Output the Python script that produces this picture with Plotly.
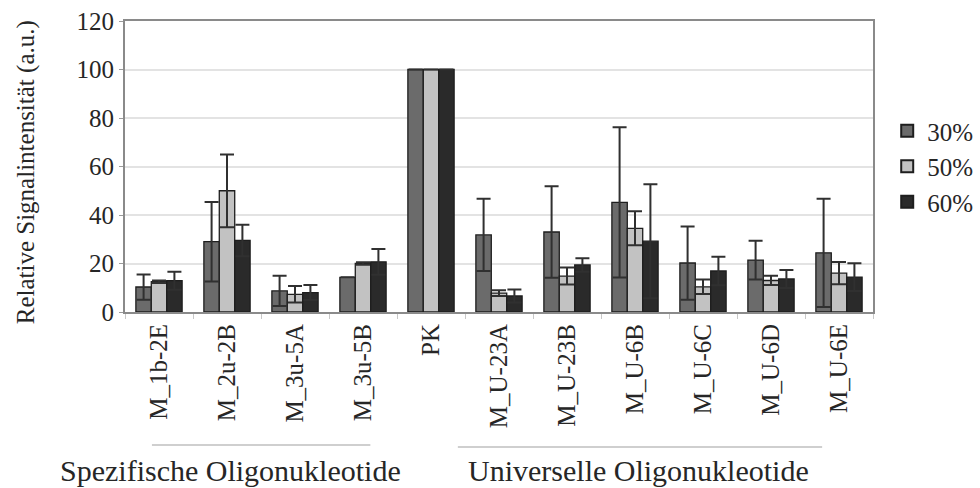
import plotly.graph_objects as go

# Oligonucleotide probes and relative signal intensity per formamide concentration
categories = ["M_1b-2E", "M_2u-2B", "M_3u-5A", "M_3u-5B", "PK",
              "M_U-23A", "M_U-23B", "M_U-6B", "M_U-6C", "M_U-6D", "M_U-6E"]
series_names = ["30%", "50%", "60%"]
v30 = [10.3, 29.0, 8.7, 14.3, 100, 31.8, 33.0, 45.2, 20.2, 21.4, 24.4]
e30 = [5.2, 16.4, 6.2, 0, 0, 14.9, 18.9, 31.0, 15.1, 8.0, 22.3]
v50 = [12.5, 50.0, 7.3, 20.0, 100, 7.8, 14.8, 34.5, 10.4, 13.0, 16.0]
e50 = [0.5, 15.0, 3.4, 0.5, 0, 1.2, 3.5, 7.0, 3.0, 1.9, 4.6]
v60 = [12.9, 29.5, 8.0, 20.7, 100, 6.6, 19.4, 29.2, 16.9, 13.6, 14.4]
e60 = [3.7, 6.5, 3.1, 5.3, 0, 2.7, 2.8, 23.5, 5.9, 3.7, 5.7]
y_ticks = [0, 20, 40, 60, 80, 100, 120]
group_labels = ["Spezifische Oligonukleotide", "Universelle Oligonukleotide"]

FONT = "Liberation Serif"
TXT = "#262626"
colors = ["#6b6b6b", "#c2c2c2", "#2a2a2a"]

fig = go.Figure()
for name, vals, errs, col in zip(series_names, [v30, v50, v60], [e30, e50, e60], colors):
    fig.add_trace(go.Bar(
        x=categories, y=vals, name=name,
        marker=dict(color=col, line=dict(color="#1e1e1e", width=1.3)),
        error_y=dict(type="data", array=errs, visible=True,
                     color="#303030", thickness=2, width=7),
    ))

fig.update_layout(
    width=980, height=488,
    margin=dict(l=125, r=107, t=21, b=176, autoexpand=False),
    paper_bgcolor="white", plot_bgcolor="white",
    barmode="group", bargap=0.32, bargroupgap=0,
    font=dict(family=FONT, color=TXT),
    showlegend=True,
    legend=dict(x=1.019, xanchor="left", y=0.5, yanchor="middle",
                font=dict(family=FONT, size=25, color=TXT),
                tracegroupgap=0, itemsizing="constant",
                bgcolor="rgba(0,0,0,0)"),
)

fig.update_xaxes(
    type="category", tickangle=-90, automargin=False,
    tickfont=dict(family=FONT, size=25, color=TXT),
    showline=True, linecolor="#8a8a8a", linewidth=2, mirror=True,
    ticks="outside", tickson="boundaries", ticklen=5, tickcolor="#c8c8c8",
    showgrid=False,
)
fig.update_yaxes(
    range=[0, 120], tickvals=y_ticks, automargin=False,
    tickfont=dict(family=FONT, size=25, color=TXT),
    showline=True, linecolor="#8a8a8a", linewidth=2, mirror=True,
    ticks="outside", ticklen=4, tickcolor="#9a9a9a",
    showgrid=True, gridcolor="#e3e3e3", gridwidth=1.5,
    zeroline=False,
)

# Vertical axis title
fig.add_annotation(text="Relative Signalintensität (a.u.)", xref="paper", yref="paper",
                   x=-0.1324, y=0.48, xanchor="center", yanchor="middle",
                   textangle=-90, showarrow=False,
                   font=dict(family=FONT, size=25, color=TXT))

# Group brackets below the category labels
for (x0, x1, yl), label, xc in zip([(0.036, 0.328, -0.457), (0.445, 0.932, -0.464)],
                                   group_labels, [0.1417, 0.686]):
    fig.add_shape(type="line", xref="paper", yref="paper",
                  x0=x0, x1=x1, y0=yl, y1=yl,
                  line=dict(color="#cfcfcf", width=2))
    fig.add_annotation(text=label, xref="paper", yref="paper",
                       x=xc, y=-0.543, xanchor="center", yanchor="middle",
                       showarrow=False,
                       font=dict(family=FONT, size=30, color=TXT))

fig.write_html("out.html")
